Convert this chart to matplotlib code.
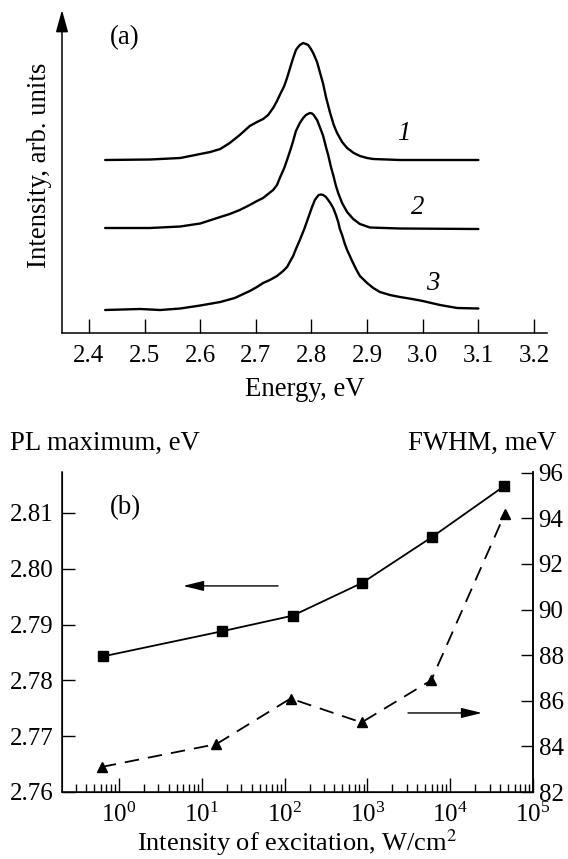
import matplotlib
matplotlib.use('Agg')
import matplotlib.pyplot as plt
from matplotlib.ticker import LogLocator, NullFormatter, FixedLocator

plt.rcParams['font.family'] = ['Liberation Serif', 'DejaVu Serif']
plt.rcParams['mathtext.fontset'] = 'stix'

# ---- panel (a): PL spectra (energy in eV, intensity in arb. units) ----
energy1 = [2.429, 2.510, 2.564, 2.600, 2.618, 2.636, 2.653, 2.671, 2.689, 2.702,
           2.713, 2.722, 2.731, 2.738, 2.743, 2.751, 2.756, 2.762, 2.767, 2.772,
           2.776, 2.779, 2.785, 2.790, 2.794, 2.799, 2.803, 2.810, 2.815, 2.821,
           2.826, 2.833, 2.840, 2.846, 2.855, 2.864, 2.876, 2.887, 2.900, 2.911,
           2.959, 3.100]
int1 = [172, 172.5, 174, 178, 180, 183, 189, 197, 206, 210,
        213, 217, 224, 231, 237, 246, 254, 265, 274, 282,
        285, 287, 289, 288, 287, 283, 279, 270, 260, 248,
        235, 220, 207, 199, 190, 184, 179, 176, 174, 173,
        172, 172]

energy2 = [2.429, 2.510, 2.564, 2.600, 2.636, 2.653, 2.671, 2.689, 2.702, 2.713,
           2.722, 2.731, 2.738, 2.743, 2.751, 2.756, 2.762, 2.767, 2.772, 2.779,
           2.785, 2.790, 2.797, 2.801, 2.804, 2.810, 2.815, 2.821, 2.826, 2.830,
           2.835, 2.839, 2.844, 2.848, 2.855, 2.864, 2.875, 2.887, 2.905, 2.959,
           3.100]
int2 = [104, 104, 105.5, 108.5, 115, 118, 122, 127, 131, 134,
        138, 142, 147, 154, 164, 172, 182, 191, 201, 209,
        214, 217, 219, 218.5, 217, 212, 205, 196, 185, 177,
        165, 157, 146, 139, 129, 120, 113, 108, 104.5, 103.5,
        103]

energy3 = [2.429, 2.492, 2.528, 2.564, 2.600, 2.636, 2.662, 2.689, 2.702, 2.713,
           2.725, 2.738, 2.749, 2.756, 2.761, 2.767, 2.772, 2.779, 2.787, 2.794,
           2.801, 2.806, 2.810, 2.813, 2.817, 2.821, 2.826, 2.830, 2.835, 2.839,
           2.844, 2.848, 2.851, 2.855, 2.860, 2.864, 2.869, 2.873, 2.880, 2.887,
           2.900, 2.911, 2.923, 2.941, 2.959, 2.981, 3.000, 3.031, 3.062, 3.100]
int3 = [22, 23, 22, 23.5, 26.5, 30, 34, 41, 45, 49,
        52, 56, 61, 65, 70, 76, 83, 92, 103, 114,
        125, 132, 135, 137, 137.5, 137, 135, 132, 128, 124,
        117, 110, 103, 97, 88, 82, 76, 71, 63, 56,
        49, 44, 40, 37, 35, 33, 31, 27, 24, 23.5]

curve_labels = ['1', '2', '3']
energy_ticks = [2.4, 2.5, 2.6, 2.7, 2.8, 2.9, 3.0, 3.1, 3.2]
energy_tick_labels = ['2.4', '2.5', '2.6', '2.7', '2.8', '2.9', '3.0', '3.1', '3.2']

# ---- panel (b): PL maximum and FWHM vs excitation intensity ----
exc_pl = [0.64, 17.5, 125, 870, 6040, 44700]
pl_max = [2.7843, 2.7888, 2.7916, 2.7975, 2.8057, 2.8148]
exc_fwhm = [0.62, 15, 118, 850, 5900, 45700]
fwhm = [83.1, 84.1, 86.1, 85.05, 86.9, 94.2]
pl_ticks = [2.76, 2.77, 2.78, 2.79, 2.80, 2.81]
pl_tick_labels = ['2.76', '2.77', '2.78', '2.79', '2.80', '2.81']
fwhm_ticks = [82, 84, 86, 88, 90, 92, 94, 96]

FS = 18
LFS = 19.3

fig = plt.figure(figsize=(5.68, 8.59), dpi=100)
W, H = 568.0, 859.0

# ---------------- panel (a) ----------------
axa = fig.add_axes([62 / W, 1 - 333 / H, (547 - 62) / W, (333 - 10) / H])
for e, i in [(energy1, int1), (energy2, int2), (energy3, int3)]:
    axa.plot(e, i, color='black', lw=1.7, solid_joinstyle='round',
             solid_capstyle='round')
axa.set_xlim(2.4 - 27 / 556.25, 3.2 + 13 / 556.25)
axa.set_ylim(-1, 322)
axa.spines['top'].set_visible(False)
axa.spines['right'].set_visible(False)
axa.spines['left'].set_visible(False)
axa.spines['bottom'].set_linewidth(1.1)
axa.set_yticks([])
axa.set_xticks(energy_ticks)
axa.set_xticklabels(energy_tick_labels)
axa.tick_params(axis='x', direction='in', length=10, width=1.0, pad=9, labelsize=FS)
axa.set_xlabel('Energy, eV', fontsize=LFS, labelpad=7)
axa.annotate('', xy=(0, 1.0), xycoords='axes fraction', xytext=(0, 0),
             textcoords='axes fraction',
             arrowprops=dict(arrowstyle='-|>,head_length=0.9,head_width=0.25',
                             mutation_scale=15, color='black', lw=1.1,
                             shrinkA=0, shrinkB=0))
axa.text(0.099, 0.913, '(a)', transform=axa.transAxes, fontsize=LFS,
         ha='left', va='center')
label_pos = [(2.965, 199), (2.991, 125), (3.018, 49)]
for lab, (x, y) in zip(curve_labels, label_pos):
    axa.text(x, y, lab, fontsize=LFS, style='italic', ha='center', va='center')
fig.text(40 / W, 1 - 165 / H, 'Intensity, arb. units', rotation=90,
         fontsize=LFS, ha='center', va='center')

# ---------------- panel (b) ----------------
axb = fig.add_axes([62 / W, 1 - 792 / H, (533 - 62) / W, (792 - 472) / H])
axb.plot(exc_pl, pl_max, color='black', lw=1.3, marker='s', ms=7.5,
         markerfacecolor='black', markeredgecolor='black')
axb.set_xscale('log')
axb.set_xlim(0.205, 1.0e5)
axb.set_ylim(2.76, 2.76 + 320 / 5580)
axb.set_yticks(pl_ticks)
axb.set_yticklabels(pl_tick_labels)
axb.xaxis.set_major_locator(FixedLocator([1, 10, 100, 1e3, 1e4, 1e5]))
axb.xaxis.set_minor_locator(LogLocator(base=10, subs=range(2, 10), numticks=20))
axb.xaxis.set_minor_formatter(NullFormatter())
axb.spines['top'].set_visible(False)
for s in ['left', 'bottom', 'right']:
    axb.spines[s].set_linewidth(1.1)
axb.tick_params(axis='x', which='major', direction='in', length=10, width=1.0,
                pad=8, labelsize=FS)
axb.tick_params(axis='x', which='minor', direction='in', length=6, width=1.0)
axb.tick_params(axis='y', direction='in', length=9, width=1.0, pad=6, labelsize=FS)
axb.set_xlabel('Intensity of excitation, W/cm$^2$', fontsize=19, labelpad=0)

ax2 = axb.twinx()
ax2.plot(exc_fwhm, fwhm, color='black', lw=1.3, marker='^', ms=7.5,
         dashes=(8, 5), markerfacecolor='black', markeredgecolor='black')
ax2.set_ylim(82, 82 + 320 / 22.8)
ax2.set_yticks(fwhm_ticks)
ax2.spines['top'].set_visible(False)
ax2.spines['right'].set_linewidth(1.1)
ax2.tick_params(axis='y', direction='in', length=9, width=1.0, pad=4, labelsize=FS)

axb.text(0.102, 0.8875, '(b)', transform=axb.transAxes, fontsize=LFS,
         ha='left', va='center')
axb.annotate('', xy=(0.257, 0.644), xycoords='axes fraction',
             xytext=(0.4586, 0.644), textcoords='axes fraction',
             arrowprops=dict(arrowstyle='-|>,head_length=0.9,head_width=0.22',
                             mutation_scale=14, color='black', lw=1.0,
                             shrinkA=0, shrinkB=0))
axb.annotate('', xy=(0.8917, 0.247), xycoords='axes fraction',
             xytext=(0.7346, 0.247), textcoords='axes fraction',
             arrowprops=dict(arrowstyle='-|>,head_length=0.9,head_width=0.22',
                             mutation_scale=14, color='black', lw=1.0,
                             shrinkA=0, shrinkB=0))

fig.text(10 / W, 1 - 443 / H, 'PL maximum, eV', fontsize=LFS, ha='left', va='center')
fig.text(557 / W, 1 - 443 / H, 'FWHM, meV', fontsize=LFS, ha='right', va='center')

fig.savefig('out.png', dpi=100)
